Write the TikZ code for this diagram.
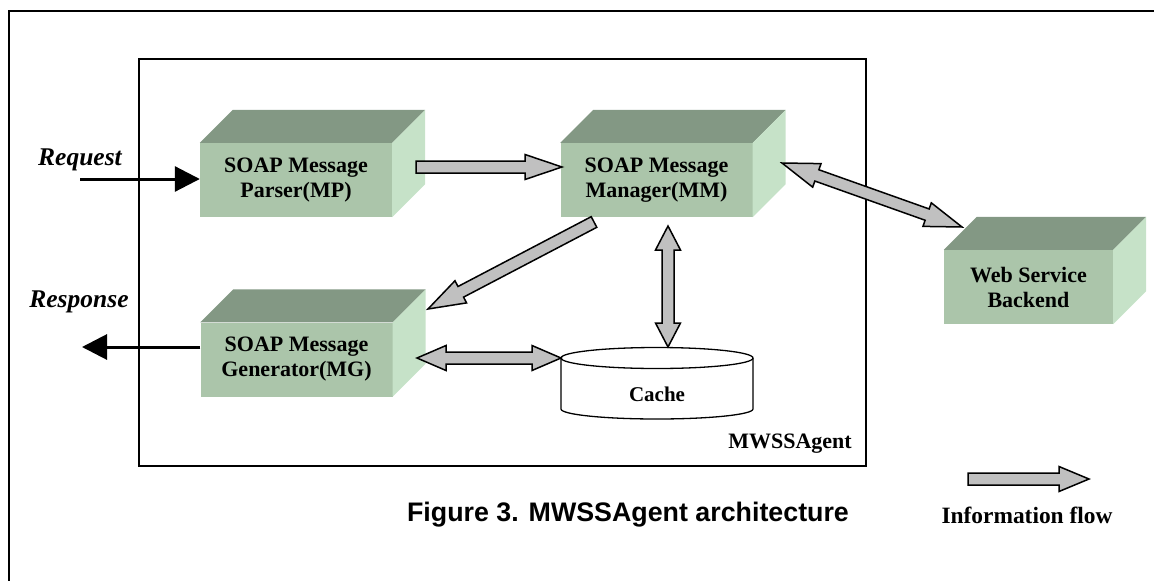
\documentclass[tikz,border=0pt]{standalone}
\usepackage{fontspec}
\setmainfont{Liberation Serif}
\newfontfamily\capfont{Liberation Sans}
\usetikzlibrary{calc,arrows.meta}

\definecolor{boxfront}{HTML}{ABC5AA}
\definecolor{boxtop}{HTML}{839884}
\definecolor{boxside}{HTML}{C6E2C8}
\definecolor{flowgray}{HTML}{C0C0C0}

\tikzset{
  module/.style={fill=boxfront, minimum width=192pt, minimum height=74pt,
    inner sep=0pt, align=center, font=\fontsize{22}{25}\selectfont\bfseries},
  flow/.style={fill=flowgray, draw=black, line width=1.5pt, line join=miter},
  io/.style={line width=3pt, -{Triangle[length=25pt,width=25pt]}},
  iolabel/.style={font=\fontsize{25.5}{28}\selectfont\bfseries\itshape, anchor=base},
  plain/.style={font=\fontsize{22}{25}\selectfont\bfseries, inner sep=0pt},
}

% top and right faces of a module drawn as a cuboid
\newcommand\cuboid[1]{%
  \fill[boxtop] (#1.north west) -- ++(33pt,33pt) -- ($(#1.north east)+(33pt,33pt)$)
    -- (#1.north east) -- cycle;
  \fill[boxside] (#1.north east) -- ++(33pt,33pt) -- ($(#1.south east)+(33pt,33pt)$)
    -- (#1.south east) -- cycle;
}

% single-headed block arrow: head length, from, to
\newcommand\flowone[3]{%
  \coordinate (fb) at ($(#3)!#1!(#2)$);
  \draw[flow] ($(#2)!6pt!90:(#3)$) -- ($(fb)!6pt!90:(#3)$) -- ($(fb)!12.5pt!90:(#3)$)
    -- (#3) -- ($(fb)!12.5pt!-90:(#3)$) -- ($(fb)!6pt!-90:(#3)$)
    -- ($(#2)!6pt!-90:(#3)$) -- cycle;
}

% double-headed block arrow: head length, end, end
\newcommand\flowtwo[3]{%
  \coordinate (fa) at ($(#2)!#1!(#3)$);
  \coordinate (fb) at ($(#3)!#1!(#2)$);
  \draw[flow] (#2) -- ($(fa)!12.5pt!90:(#3)$) -- ($(fa)!6pt!90:(#3)$)
    -- ($(fb)!6pt!90:(#3)$) -- ($(fb)!12.5pt!90:(#3)$) -- (#3)
    -- ($(fb)!12.5pt!-90:(#3)$) -- ($(fb)!6pt!-90:(#3)$)
    -- ($(fa)!6pt!-90:(#3)$) -- ($(fa)!12.5pt!-90:(#3)$) -- cycle;
}

\begin{document}
\begin{tikzpicture}[x=1pt, y=-1pt]
\useasboundingbox (0,0) rectangle (1154,581);

% outer frame
\draw[line width=2.6pt] (9,581) -- (9,11) -- (1154,11);

% agent boundary
\draw[line width=1.3pt] (139,59) rectangle (866,466);
\node[plain, anchor=base east] (agent) at (852,448) {MWSSAgent};

% modules
\node[module] (mp) at (296,180) {SOAP Message\\Parser(MP)};
\node[module] (mm) at (656.5,180) {SOAP Message\\Manager(MM)};
\node[module] (mg) at (296.5,359.5) {SOAP Message\\Generator(MG)};
\node[module, minimum width=169pt] (wsb) at (1028.5,287) {Web Service\\Backend};
\cuboid{mp}
\cuboid{mm}
\cuboid{mg}
\cuboid{wsb}

% cache store
\draw[line width=1.3pt, fill=white] (561,358) -- (561,409)
  arc[start angle=180, end angle=360, x radius=96pt, y radius=10pt] -- (753,358);
\draw[line width=1.3pt, fill=white] (657,358) ellipse[x radius=96pt, y radius=10.5pt];
\node[plain, font=\fontsize{21}{24}\selectfont\bfseries, anchor=base] (cache) at (657,401) {Cache};

% request / response
\coordinate (req) at (80,179);
\coordinate (resp) at (82,347);
\node[iolabel] (reqlabel) at (80,165) {Request};
\node[iolabel] (resplabel) at (79,307) {Response};
\draw[io] (req) -- (mp.west |- req);
\draw[io] (mg.west |- resp) -- (resp);

% information flow between components
\coordinate (mp-out) at (416,167);
\coordinate (mm-in) at (562,167);
\flowone{37pt}{mp-out}{mm-in}

\coordinate (mm-r) at (782,163);
\coordinate (wsb-l) at (962,227);
\flowtwo{37pt}{mm-r}{wsb-l}

\coordinate (mm-b) at (594,222);
\coordinate (mg-r) at (428,309);
\flowone{37pt}{mm-b}{mg-r}

\coordinate (mm-d) at (668,226);
\coordinate (cache-t) at (668,347);
\flowtwo{24pt}{mm-d}{cache-t}

\coordinate (mg-o) at (417,358);
\coordinate (cache-l) at (561,358);
\flowtwo{29pt}{mg-o}{cache-l}

% legend
\coordinate (leg-a) at (968,479);
\coordinate (leg-b) at (1089,479);
\flowone{30pt}{leg-a}{leg-b}
\node[plain, font=\fontsize{23.4}{26}\selectfont\bfseries, anchor=base] (legend) at (1027,523) {Information flow};

% caption
\node[inner sep=0pt, anchor=base, font=\capfont\fontsize{26.8}{30}\selectfont\bfseries] (caption) at (628,521)
  {Figure 3. MWSSAgent architecture};
\end{tikzpicture}
\end{document}
